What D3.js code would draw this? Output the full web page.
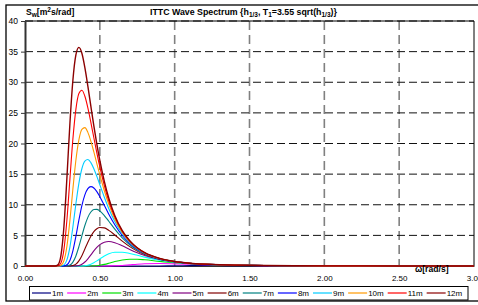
<!DOCTYPE html>
<html>
<head>
<meta charset="utf-8">
<script src="https://cdn.jsdelivr.net/npm/d3@7"></script>
<style>
  body { margin: 0; background: #fff; }
  svg { display: block; font-family: "Liberation Sans", Arial, sans-serif; }
</style>
</head>
<body>
<svg></svg>
<script>
// wave frequency grid [rad/s]
var omega = [0, 0.20, 0.22, 0.24, 0.26, 0.28, 0.30, 0.32, 0.34, 0.36, 0.38, 0.40, 0.42, 0.44, 0.46, 0.48, 0.50, 0.53, 0.56, 0.60, 0.65, 0.70, 0.75, 0.80, 0.90, 1.00, 1.10, 1.20, 1.30, 1.40, 1.60, 1.80, 2.00, 2.50, 3.00];

// spectral density S_w [m^2 s/rad] per significant wave height
var s1  = [0, 0, 0, 0, 0, 0, 0, 0, 0, 0, 0, 0, 0, 0, 0, 0, 0, 0, 0, 0, 0, 0, 0, 0, 0.01, 0.04, 0.06, 0.07, 0.07, 0.06, 0.05, 0.03, 0.02, 0.01, 0];
var s2  = [0, 0, 0, 0, 0, 0, 0, 0, 0, 0, 0, 0, 0, 0, 0, 0, 0, 0, 0.01, 0.03, 0.09, 0.19, 0.29, 0.36, 0.40, 0.35, 0.28, 0.21, 0.16, 0.12, 0.06, 0.04, 0.02, 0.01, 0];
var s3  = [0, 0, 0, 0, 0, 0, 0, 0, 0, 0, 0, 0, 0, 0.01, 0.02, 0.05, 0.11, 0.26, 0.45, 0.73, 0.99, 1.11, 1.10, 1.01, 0.76, 0.54, 0.37, 0.26, 0.18, 0.13, 0.07, 0.04, 0.02, 0.01, 0];
var s4  = [0, 0, 0, 0, 0, 0, 0, 0, 0, 0, 0.01, 0.05, 0.13, 0.30, 0.54, 0.84, 1.17, 1.64, 2.00, 2.25, 2.25, 2.04, 1.75, 1.45, 0.96, 0.62, 0.41, 0.28, 0.19, 0.13, 0.07, 0.04, 0.02, 0.01, 0];
var s5  = [0, 0, 0, 0, 0, 0, 0, 0, 0.02, 0.09, 0.29, 0.65, 1.18, 1.81, 2.46, 3.03, 3.48, 3.89, 4.00, 3.81, 3.30, 2.71, 2.17, 1.71, 1.06, 0.67, 0.43, 0.29, 0.19, 0.14, 0.07, 0.04, 0.02, 0.01, 0];
var s6  = [0, 0, 0, 0, 0, 0, 0.01, 0.07, 0.31, 0.84, 1.69, 2.77, 3.88, 4.86, 5.61, 6.08, 6.29, 6.22, 5.82, 5.07, 4.06, 3.16, 2.43, 1.87, 1.12, 0.69, 0.44, 0.29, 0.20, 0.14, 0.07, 0.04, 0.02, 0.01, 0];
var s7  = [0, 0, 0, 0, 0, 0.02, 0.15, 0.63, 1.64, 3.16, 4.93, 6.61, 7.94, 8.81, 9.22, 9.25, 8.98, 8.24, 7.31, 6.02, 4.60, 3.47, 2.61, 1.98, 1.16, 0.71, 0.45, 0.29, 0.20, 0.14, 0.07, 0.04, 0.02, 0.01, 0];
var s8  = [0, 0, 0, 0, 0.02, 0.20, 0.91, 2.48, 4.84, 7.48, 9.87, 11.62, 12.63, 12.96, 12.74, 12.15, 11.32, 9.90, 8.46, 6.73, 4.98, 3.68, 2.73, 2.05, 1.19, 0.72, 0.45, 0.30, 0.20, 0.14, 0.07, 0.04, 0.02, 0.01, 0];
var s9  = [0, 0, 0, 0.01, 0.18, 1.01, 3.09, 6.39, 10.16, 13.50, 15.88, 17.12, 17.38, 16.88, 15.89, 14.64, 13.27, 11.23, 9.36, 7.27, 5.27, 3.84, 2.82, 2.10, 1.21, 0.73, 0.46, 0.30, 0.20, 0.14, 0.07, 0.04, 0.02, 0.01, 0];
var s10 = [0, 0, 0, 0.10, 0.85, 3.20, 7.42, 12.57, 17.27, 20.60, 22.31, 22.59, 21.82, 20.39, 18.62, 16.73, 14.86, 12.28, 10.06, 7.67, 5.48, 3.95, 2.89, 2.14, 1.22, 0.73, 0.46, 0.30, 0.20, 0.14, 0.07, 0.04, 0.02, 0.01, 0];
var s11 = [0, 0, 0.03, 0.51, 2.68, 7.51, 14.19, 20.73, 25.57, 28.15, 28.69, 27.72, 25.83, 23.46, 20.94, 18.47, 16.17, 13.13, 10.61, 7.99, 5.65, 4.04, 2.93, 2.16, 1.23, 0.73, 0.46, 0.30, 0.20, 0.14, 0.07, 0.04, 0.02, 0.01, 0];
var s12 = [0, 0, 0.19, 1.69, 6.41, 14.38, 23.23, 30.33, 34.47, 35.70, 34.74, 32.40, 29.37, 26.09, 22.89, 19.91, 17.23, 13.81, 11.05, 8.24, 5.77, 4.11, 2.97, 2.18, 1.24, 0.74, 0.46, 0.30, 0.20, 0.14, 0.07, 0.04, 0.02, 0.01, 0];

var heights = ["1m", "2m", "3m", "4m", "5m", "6m", "7m", "8m", "9m", "10m", "11m", "12m"];
var values = [s1, s2, s3, s4, s5, s6, s7, s8, s9, s10, s11, s12];
var colors = ["#000080", "#ff00ff", "#00e000", "#00ffff", "#800080", "#800000",
              "#008080", "#0000ff", "#00ccff", "#ff9900", "#ff0000", "#8b0000"];

var yTicks = [0, 5, 10, 15, 20, 25, 30, 35, 40];
var xTicks = [0, 0.5, 1.0, 1.5, 2.0, 2.5, 3.0];

var width = 478;
var height = 305;
var plotL = 25, plotR = 474, plotT = 21, plotB = 266;

var svg = d3.select("svg")
    .attr("width", width)
    .attr("height", height);

svg.append("rect")
    .attr("width", width)
    .attr("height", height)
    .attr("fill", "#fff");

// outer chart frame
svg.append("rect")
    .attr("x", 6)
    .attr("y", 5)
    .attr("width", 480)
    .attr("height", 296)
    .attr("fill", "none")
    .attr("stroke", "#000")
    .attr("stroke-width", 1.3);

var x = d3.scaleLinear().domain([0, 3]).range([plotL, plotR]);
var y = d3.scaleLinear().domain([0, 40]).range([plotB, plotT]);

// vertical grid lines
svg.append("g")
  .selectAll("line")
  .data(xTicks.filter(d => d > 0 && d < 3))
  .enter().append("line")
    .attr("x1", d => x(d))
    .attr("x2", d => x(d))
    .attr("y1", plotT)
    .attr("y2", plotB)
    .attr("stroke", "#808080")
    .attr("stroke-width", 1.6)
    .attr("stroke-dasharray", "9,5");

// horizontal grid lines
svg.append("g")
  .selectAll("line")
  .data(yTicks.filter(d => d > 0))
  .enter().append("line")
    .attr("x1", plotL)
    .attr("x2", plotR)
    .attr("y1", d => y(d))
    .attr("y2", d => y(d))
    .attr("stroke", "#111")
    .attr("stroke-width", 1)
    .attr("stroke-dasharray", "8,4");

// plot border top / right
svg.append("path")
    .attr("d", "M" + plotL + "," + plotT + "H" + plotR + "V" + plotB)
    .attr("fill", "none")
    .attr("stroke", "#000")
    .attr("stroke-width", 1);

// x axis
var xAxis = svg.append("g")
    .attr("transform", "translate(0," + plotB + ")")
    .call(d3.axisBottom(x)
            .tickValues(xTicks)
            .tickSize(0)
            .tickPadding(9)
            .tickFormat(d3.format(".2f")));
xAxis.select(".domain").attr("stroke", "#333").attr("stroke-width", 1);
xAxis.selectAll("text").attr("font-size", "8px").attr("fill", "#000")
    .attr("font-family", "'Liberation Sans', Arial, sans-serif");

// y axis
var yAxis = svg.append("g")
    .attr("transform", "translate(" + plotL + ",0)")
    .call(d3.axisLeft(y)
            .tickValues(yTicks)
            .tickSize(4)
            .tickPadding(3)
            .tickSizeOuter(0));
yAxis.select(".domain").attr("stroke", "#333").attr("stroke-width", 2);
yAxis.selectAll(".tick line").attr("stroke", "#333");
yAxis.selectAll("text").attr("font-size", "8.5px").attr("fill", "#000")
    .attr("font-family", "'Liberation Sans', Arial, sans-serif");

// spectrum curves
svg.append("clipPath").attr("id", "clip")
  .append("rect")
    .attr("x", plotL).attr("y", plotT - 2)
    .attr("width", plotR - plotL).attr("height", plotB - plotT + 4);

var line = d3.line()
    .x((d, i) => x(omega[i]))
    .y(d => y(d))
    .curve(d3.curveMonotoneX);

svg.append("g")
    .attr("clip-path", "url(#clip)")
  .selectAll("path")
  .data(values)
  .enter().append("path")
    .attr("d", line)
    .attr("fill", "none")
    .attr("stroke", (d, i) => colors[i])
    .attr("stroke-width", (d, i) => i == 11 ? 1.4 : 1.1);

// titles
var title = svg.append("text")
    .attr("x", 150)
    .attr("y", 15)
    .attr("font-size", "8.8px")
    .attr("font-weight", "bold");
title.append("tspan").text("ITTC Wave Spectrum {h");
title.append("tspan").attr("dy", 2).attr("font-size", "6.5px").text("1/3");
title.append("tspan").attr("dy", -2).text(", T");
title.append("tspan").attr("dy", 2).attr("font-size", "6.5px").text("1");
title.append("tspan").attr("dy", -2).text("=3.55 sqrt(h");
title.append("tspan").attr("dy", 2).attr("font-size", "6.5px").text("1/3");
title.append("tspan").attr("dy", -2).text(")}");

var yTitle = svg.append("text")
    .attr("x", 26)
    .attr("y", 15)
    .attr("font-size", "8.6px")
    .attr("font-weight", "bold");
yTitle.append("tspan").text("S");
yTitle.append("tspan").attr("dy", 2).attr("font-size", "6.5px").text("w");
yTitle.append("tspan").attr("dy", -2).text("[m");
yTitle.append("tspan").attr("dy", -3).attr("font-size", "6.5px").text("2");
yTitle.append("tspan").attr("dy", 3).text("s/rad]");

svg.append("text")
    .attr("x", 415)
    .attr("y", 272)
    .attr("font-size", "8.6px")
    .attr("font-weight", "bold")
    .text("\u03c9[rad/s]");

// legend
svg.append("rect")
    .attr("x", 29.5)
    .attr("y", 286.5)
    .attr("width", 438.5)
    .attr("height", 13.5)
    .attr("fill", "#fff")
    .attr("stroke", "#000")
    .attr("stroke-width", 1);

var legend = svg.append("g");
var lx = 32;
heights.forEach(function(h, i) {
  legend.append("line")
      .attr("x1", lx).attr("x2", lx + 19)
      .attr("y1", 293).attr("y2", 293)
      .attr("stroke", colors[i])
      .attr("stroke-width", 1.2);
  var t = legend.append("text")
      .attr("x", lx + 20)
      .attr("y", 296)
      .attr("font-size", "8px")
      .text(h);
  lx += 20 + t.node().getComputedTextLength() + 4;
});
</script>
</body>
</html>
